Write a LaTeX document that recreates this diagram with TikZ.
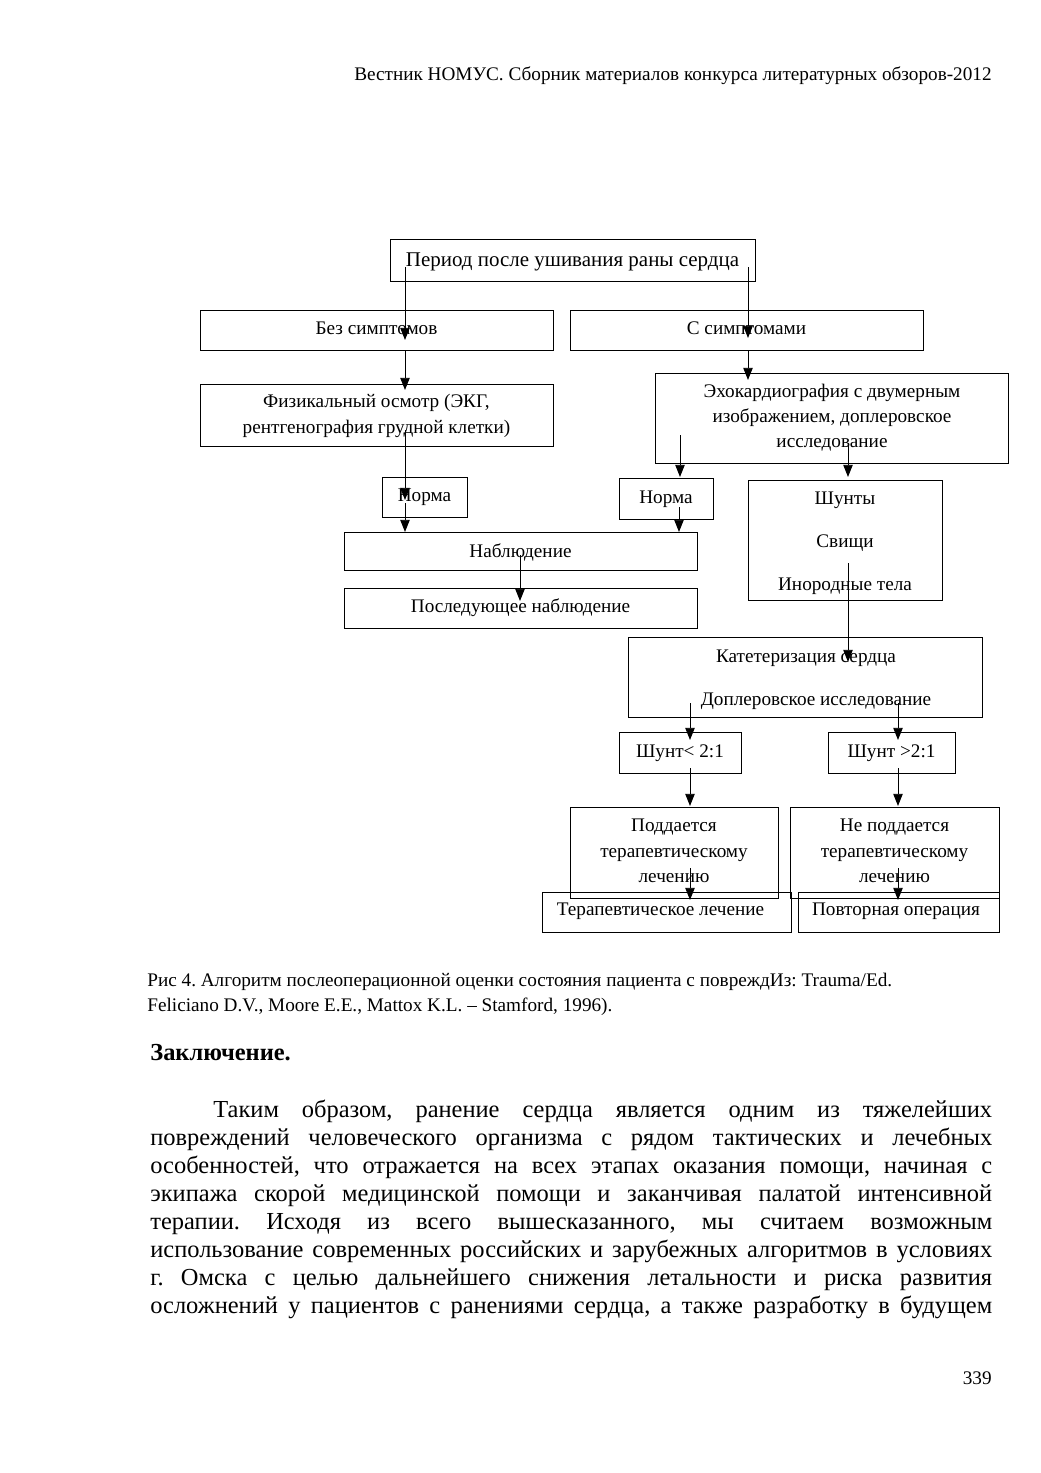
\documentclass[tikz,border=0pt]{standalone}
\usepackage{fontspec}
\setmainfont{Liberation Serif}
\usetikzlibrary{arrows.meta}
\frenchspacing
\begin{document}
\begin{tikzpicture}[x=0.5724pt,y=-0.5724pt,
  bx/.style 2 args={draw, line width=0.5pt, minimum width=#1*0.5724pt, minimum height=#2*0.5724pt, inner sep=0pt},
  tt/.style={font=\fontsize{11}{13}\selectfont, anchor=base, inner sep=0pt, yshift=-1.1pt},
  tbig/.style={font=\fontsize{12}{14}\selectfont, anchor=base, inner sep=0pt, yshift=-1.1pt},
  body/.style={font=\fontsize{14}{16}\selectfont, anchor=base west, inner sep=0pt, yshift=-1.1pt},
  arr/.style={line width=0.55pt, -{Triangle[length=7pt,width=5.4pt]}}]
\useasboundingbox (0,0) rectangle (1040,1473);
\fill[white] (0,0) rectangle (1040,1473);

% header
\node[tt, anchor=base east] (hdr) at (992,79) {Вестник НОМУС. Сборник материалов конкурса литературных обзоров-2012};

% boxes
\node[bx={365}{42}] (top) at (572.5,260) {};
\node[bx={353}{40}] (bez) at (376.5,330) {};
\node[bx={353}{40}] (ssim) at (746.5,330) {};
\node[bx={353}{62}] (fiz) at (376.5,415) {};
\node[bx={353}{90}] (echo) at (831.5,418) {};
\node[bx={85}{40}] (norma1) at (424.5,497) {};
\node[bx={94}{41}] (norma2) at (666,498.5) {};
\node[bx={194}{120}] (shunty) at (845,540) {};
\node[bx={353}{38}] (nabl) at (520.5,551) {};
\node[bx={353}{40}] (posl) at (520.5,608) {};
\node[bx={354}{80}] (kat) at (805,677) {};
\node[bx={122}{41}] (shl) at (680,752.5) {};
\node[bx={127}{41}] (shg) at (891.5,752.5) {};
\node[bx={208}{91}] (podd) at (674,852.5) {};
\node[bx={209}{91}] (nepodd) at (894.5,852.5) {};
\node[bx={249}{40}] (terap) at (666.5,912) {};
\node[bx={201}{40}] (povt) at (898.5,912) {};

% box texts
\node[tbig] (ttop) at (572.5,265) {Период после ушивания раны сердца};
\node[tt] (tbez) at (376.5,333) {Без симптомов};
\node[tt] (tssim) at (746.5,333) {С симптомами};
\node[tt] (tfiz1) at (376.5,406) {Физикальный осмотр (ЭКГ,};
\node[tt] (tfiz2) at (376.5,432) {рентгенография грудной клетки)};
\node[tt] (techo1) at (832,396) {Эхокардиография с двумерным};
\node[tt] (techo2) at (832,421) {изображением, доплеровское};
\node[tt] (techo3) at (832,446) {исследование};
\node[tt] (tn1) at (424.5,500) {Норма};
\node[tt] (tn2) at (666,502) {Норма};
\node[tt] (tsh1) at (845,503) {Шунты};
\node[tt] (tsh2) at (845,546) {Свищи};
\node[tt] (tsh3) at (845,589) {Инородные тела};
\node[tt] (tnabl) at (520.5,556) {Наблюдение};
\node[tt] (tposl) at (520.5,611) {Последующее наблюдение};
\node[tt] (tkat1) at (806,661) {Катетеризация сердца};
\node[tt] (tkat2) at (816,704) {Доплеровское исследование};
\node[tt] (tshl) at (680,756) {Шунт< 2:1};
\node[tt] (tshg) at (891.5,756) {Шунт >2:1};
\node[tt] (tp1) at (674,830) {Поддается};
\node[tt] (tp2) at (674,856) {терапевтическому};
\node[tt] (tp3) at (674,881) {лечению};
\node[tt] (tnp1) at (894.5,830) {Не поддается};
\node[tt] (tnp2) at (894.5,856) {терапевтическому};
\node[tt] (tnp3) at (894.5,881) {лечению};
\node[tt] (tterap) at (660.5,914) {Терапевтическое лечение};
\node[tt] (tpovt) at (896,914) {Повторная операция};

% connector end points
\coordinate (a1s) at (405,267); \coordinate (a1e) at (405,340);
\coordinate (a2s) at (405,350); \coordinate (a2e) at (405,390);
\coordinate (a3s) at (405,430); \coordinate (a3e) at (405,500);
\coordinate (a4s) at (405,503); \coordinate (a4e) at (405,532);
\coordinate (b1s) at (748,267); \coordinate (b1e) at (748,338);
\coordinate (b2s) at (748,350); \coordinate (b2e) at (748,380);
\coordinate (b3s) at (680,435); \coordinate (b3e) at (680,477);
\coordinate (b4s) at (848,443); \coordinate (b4e) at (848,477);
\coordinate (b5s) at (679,507); \coordinate (b5e) at (679,532);
\coordinate (c1s) at (520,555); \coordinate (c1e) at (520,601);
\coordinate (d1s) at (848,563); \coordinate (d1e) at (848,662);
\coordinate (e1s) at (690,703); \coordinate (e1e) at (690,740);
\coordinate (e2s) at (898,703); \coordinate (e2e) at (898,740);
\coordinate (e3s) at (690,768); \coordinate (e3e) at (690,806);
\coordinate (e4s) at (898,768); \coordinate (e4e) at (898,806);
\coordinate (e5s) at (690,868); \coordinate (e5e) at (690,900);
\coordinate (e6s) at (898,868); \coordinate (e6e) at (898,900);

\foreach \a in {a1,a2,a3,a4,b1,b2,b3,b4,b5,c1,d1,e1,e2,e3,e4,e5,e6}
  \draw[arr] (\a s) -- (\a e);

% caption
\node[tt, anchor=base west] (cap1) at (147,985) {Рис 4. Алгоритм послеоперационной оценки состояния пациента с повреждИз: Trauma/Ed.};
\node[tt, anchor=base west] (cap2) at (147,1010) {Feliciano D.V., Moore E.E., Mattox K.L. – Stamford, 1996).};

% heading
\node[body, font=\fontsize{14}{16}\selectfont\bfseries] (head) at (150,1059) {Заключение.};

% body text
\node[body] (l1) at (213,1116) {\makebox[445.8pt][s]{Таким образом, ранение сердца является одним из тяжелейших}};
\node[body] (l2) at (150,1144) {\makebox[481.9pt][s]{повреждений человеческого организма с рядом тактических и лечебных}};
\node[body] (l3) at (150,1172) {\makebox[481.9pt][s]{особенностей, что отражается на всех этапах оказания помощи, начиная с}};
\node[body] (l4) at (150,1200) {\makebox[481.9pt][s]{экипажа скорой медицинской помощи и заканчивая палатой интенсивной}};
\node[body] (l5) at (150,1228) {\makebox[481.9pt][s]{терапии. Исходя из всего вышесказанного, мы считаем возможным}};
\node[body] (l6) at (150,1256) {\makebox[481.9pt][s]{использование современных российских и зарубежных алгоритмов в условиях}};
\node[body] (l7) at (150,1284) {\makebox[481.9pt][s]{г. Омска с целью дальнейшего снижения летальности и риска развития}};
\node[body] (l8) at (150,1312) {\makebox[481.9pt][s]{осложнений у пациентов с ранениями сердца, а также разработку в будущем}};

% page number
\node[tt, anchor=base east] (pnum) at (992,1383) {339};
\end{tikzpicture}
\end{document}
